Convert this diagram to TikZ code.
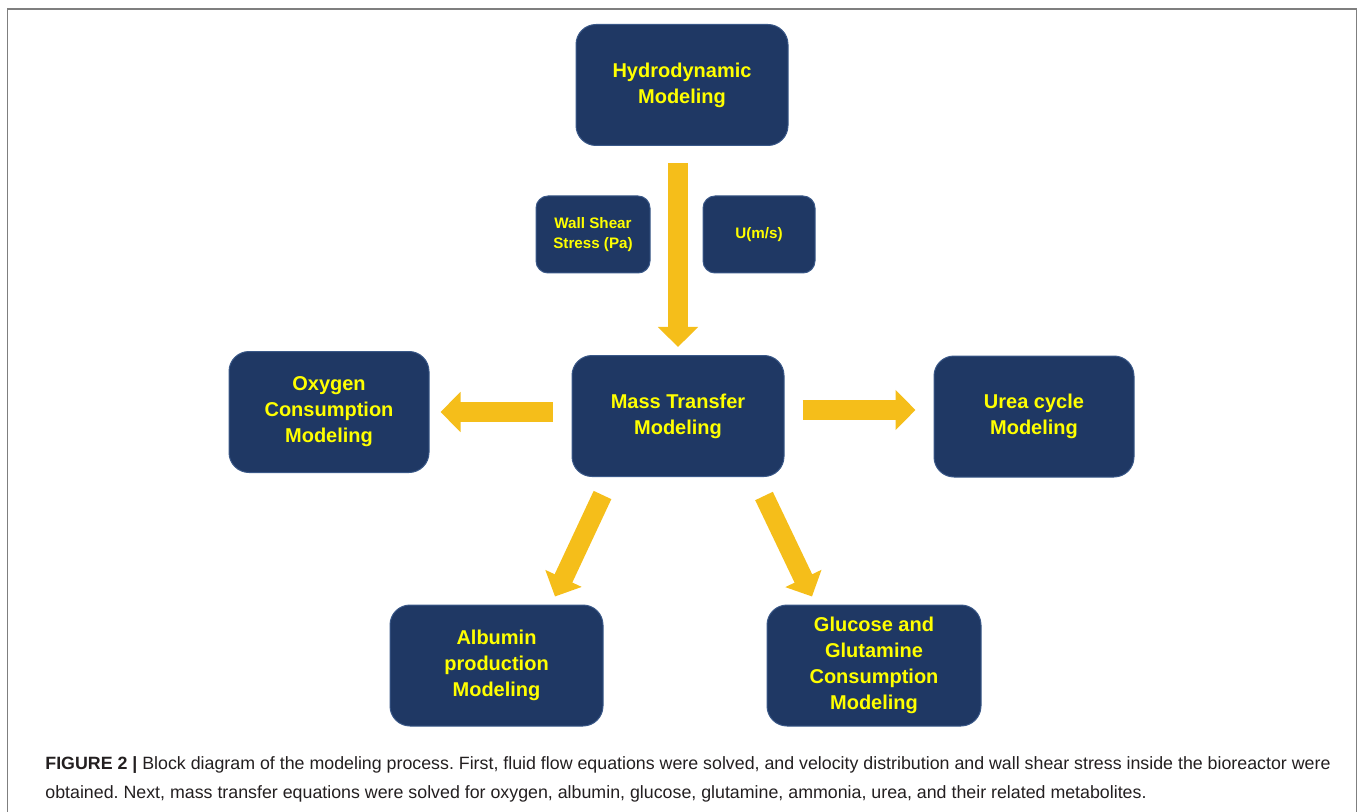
\documentclass[tikz,border=0pt]{standalone}
\usepackage{fontspec}
\setmainfont{Liberation Sans}
\usetikzlibrary{arrows.meta,calc}
\definecolor{boxblue}{HTML}{1F3864}
\definecolor{boxedge}{HTML}{3A5888}
\definecolor{labelyellow}{HTML}{FFFF00}
\definecolor{flowgold}{HTML}{F5BE1A}
\definecolor{captext}{HTML}{231F20}
\definecolor{framegray}{HTML}{7F7F7F}
\frenchspacing

\begin{document}
\begin{tikzpicture}[x=0.5pt,y=-0.5pt]
  \tikzset {
    box/.style={
      rectangle,
      rounded corners=10pt,
      fill=boxblue,
      draw=boxedge,
      line width=0.5pt,
      text=labelyellow,
      font=\bfseries\fontsize{10}{13}\selectfont,
      align=center,
      minimum width=106pt,
      minimum height=60.5pt,
      inner sep=0pt
    },
    smallbox/.style={
      box,
      rounded corners=6pt,
      font=\bfseries\fontsize{7.6}{10}\selectfont,
      minimum width=57pt,
      minimum height=38.5pt
    },
    flow/.style={
      draw=flowgold,
      line width=9.75pt,
      -{Triangle[width=19.5pt,length=10pt]}
    },
    caption/.style={
      anchor=base west,
      inner sep=0pt,
      text=captext,
      font=\fontsize{8.9}{14.5}\selectfont
    }
  }
  \useasboundingbox (0,0) rectangle (1358,812);
  \draw[framegray, line width=0.75pt] (7.5,812) -- (7.5,9) -- (1356.5,9) -- (1356.5,812);

  \node[box](hydro) at (682,85) {Hydrodynamic\\Modeling};
  \node[smallbox](wss) at (593,234.5) {Wall Shear\\Stress (Pa)};
  \node[smallbox, minimum width=56pt](vel) at (759,234.5) {U(m/s)};
  \node[box](mass) at (678,416) {Mass Transfer\\Modeling};
  \node[box, minimum width=100pt](oxy) at (329,412) {Oxygen\\Consumption\\Modeling};
  \node[box, minimum width=100pt](urea) at (1034,416.5) {Urea cycle\\Modeling};
  \node[box, minimum width=106.5pt](albumin) at (496.5,665.5) {Albumin\\production\\Modeling};
  \node[box, minimum width=107pt](glucose) at (874,665.5) {Glucose and\\Glutamine\\Consumption\\Modeling};

  \path ($(mass.north |- hydro.south)+(0,17)$) edge[flow] ($(mass.north)+(0,-8)$);
  \path ($(mass.west)+(-19,-4)$) edge[flow] ($(oxy.east)+(11,0)$);
  \path ($(mass.east)+(18,-6)$) edge[flow] ($(urea.west)+(-18,-6.5)$);
  \path ($(mass.south)+(-75.5,18)$) edge[flow] ($(albumin.north)+(58.5,-8)$);
  \path ($(mass.south)+(86,19)$) edge[flow] ($(glucose.north)+(-62,-8)$);

  \node[caption](cap1) at (45,769) {\textbf{FIGURE 2 |} Block diagram of the modeling process. First, fluid flow equations were solved, and velocity distribution and wall shear stress inside the bioreactor were};
  \node[caption](cap2) at (45,798) {obtained. Next, mass transfer equations were solved for oxygen, albumin, glucose, glutamine, ammonia, urea, and their related metabolites.};
\end{tikzpicture}
\end{document}
